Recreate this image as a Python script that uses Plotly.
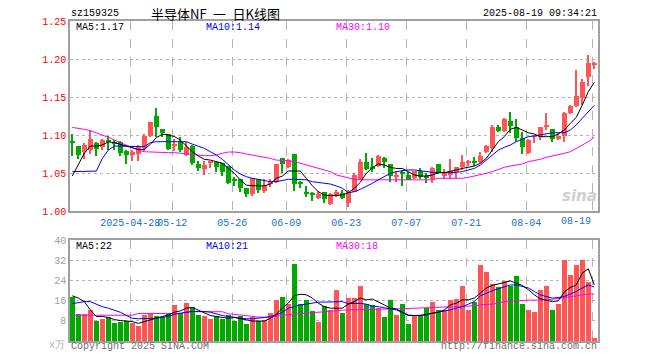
import plotly.graph_objects as go

# ---------------- data ----------------
tick_idx = [10, 17, 27, 36, 46, 56, 66, 76, 87]
tick_labels = ["2025-04-28", "05-12", "05-26", "06-09", "06-23", "07-07", "07-21", "08-04", "08-19"]

open_ = [1.091, 1.0855, 1.078, 1.0803, 1.0895, 1.0846, 1.0922, 1.0892, 1.0908, 1.079,
         1.0741, 1.0754, 1.0825, 1.0987, 1.125, 1.1079, 1.1009, 1.0858, 1.0908, 1.0732,
         1.085, 1.0618, 1.0557, 1.0638, 1.0645, 1.0627, 1.0592, 1.0404, 1.0417, 1.0307,
         1.0219, 1.0417, 1.0268, 1.0368, 1.0382, 1.0697, 1.0583, 1.075, 1.0373, 1.0228,
         1.0217, 1.0175, 1.025, 1.009, 1.0197, 1.0232, 1.0101, 1.0254, 1.0417, 1.0645,
         1.0566, 1.0596, 1.0693, 1.0614, 1.0447, 1.0496, 1.0474, 1.0439, 1.0531, 1.0443,
         1.0417, 1.0618, 1.0461, 1.0474, 1.0518, 1.0575, 1.0636, 1.0648, 1.0649, 1.0781,
         1.0825, 1.1101, 1.1057, 1.1184, 1.1101, 1.0956, 1.0759, 1.0974, 1.0978, 1.111,
         1.1075, 1.0947, 1.0991, 1.1294, 1.1382, 1.1482, 1.1768, 1.1925]
high = [1.101, 1.086, 1.089, 1.1066, 1.0904, 1.0947, 1.099, 1.0934, 1.092, 1.080,
        1.080, 1.0873, 1.1013, 1.1175, 1.1355, 1.108, 1.101, 1.0952, 1.0974, 1.0908,
        1.0868, 1.0658, 1.0658, 1.0658, 1.0645, 1.0636, 1.0592, 1.0452, 1.0417, 1.0307,
        1.0439, 1.042, 1.0417, 1.0425, 1.0614, 1.0697, 1.068, 1.075, 1.039, 1.0333,
        1.0254, 1.0268, 1.025, 1.024, 1.028, 1.0276, 1.0276, 1.0496, 1.068, 1.0759,
        1.0693, 1.0732, 1.0715, 1.0614, 1.0531, 1.054, 1.0513, 1.0531, 1.057, 1.0504,
        1.0583, 1.0618, 1.0548, 1.0684, 1.0575, 1.0737, 1.0675, 1.0715, 1.0772, 1.0868,
        1.1132, 1.1127, 1.1219, 1.1303, 1.1211, 1.1044, 1.0943, 1.100, 1.111, 1.1285,
        1.1075, 1.1031, 1.1307, 1.1395, 1.1855, 1.1732, 1.2053, 1.1965]
low = [1.072, 1.068, 1.068, 1.075, 1.0724, 1.0803, 1.0803, 1.080, 1.073, 1.0623,
       1.066, 1.066, 1.0785, 1.098, 1.098, 1.0974, 1.080, 1.0794, 1.078, 1.072,
       1.0605, 1.0526, 1.0474, 1.0561, 1.0509, 1.046, 1.0351, 1.0333, 1.0254, 1.0189,
       1.0202, 1.0241, 1.0232, 1.0311, 1.0373, 1.0496, 1.0566, 1.0268, 1.030, 1.0189,
       1.0136, 1.0154, 1.011, 1.008, 1.018, 1.0158, 1.0057, 1.0254, 1.0408, 1.0539,
       1.0518, 1.0583, 1.0566, 1.0386, 1.0386, 1.0333, 1.0404, 1.0417, 1.0417, 1.0364,
       1.0364, 1.0482, 1.0417, 1.0425, 1.043, 1.054, 1.0596, 1.0592, 1.0636, 1.0759,
       1.0781, 1.1044, 1.1044, 1.1022, 1.0912, 1.075, 1.075, 1.089, 1.0934, 1.1066,
       1.0912, 1.0934, 1.0912, 1.1276, 1.1373, 1.1395, 1.1649, 1.1868]
close = [1.090, 1.0737, 1.0864, 1.0947, 1.082, 1.0934, 1.092, 1.089, 1.0768, 1.0741,
         1.0776, 1.0838, 1.0987, 1.1175, 1.110, 1.1026, 1.0816, 1.0862, 1.0803, 1.0838,
         1.0627, 1.0561, 1.0605, 1.0642, 1.0583, 1.0509, 1.0373, 1.0399, 1.0307, 1.0228,
         1.0439, 1.0276, 1.0333, 1.0373, 1.0614, 1.0623, 1.0671, 1.0355, 1.0368, 1.0224,
         1.0213, 1.0224, 1.0162, 1.023, 1.0254, 1.0171, 1.0254, 1.0478, 1.0645, 1.0553,
         1.0563, 1.0724, 1.0645, 1.046, 1.0478, 1.049, 1.0412, 1.0531, 1.0443, 1.044,
         1.0566, 1.0496, 1.0518, 1.0526, 1.0575, 1.064, 1.064, 1.0643, 1.0728, 1.0855,
         1.1101, 1.1057, 1.1211, 1.1118, 1.0956, 1.0846, 1.0934, 1.0978, 1.1101, 1.1114,
         1.0943, 1.0987, 1.1294, 1.1382, 1.1513, 1.1702, 1.1943, 1.193]

ma5 = [1.046, 1.0605, 1.076, 1.0855, 1.0855, 1.0868, 1.091, 1.090, 1.0877, 1.0855,
       1.0825, 1.081, 1.081, 1.0877, 1.0965, 1.101, 1.100, 1.098, 1.0934, 1.0855,
       1.078, 1.0724, 1.068, 1.067, 1.065, 1.063, 1.056, 1.0496, 1.041, 1.034,
       1.0333, 1.033, 1.033, 1.0355, 1.043, 1.046, 1.0526, 1.0526, 1.0526, 1.043,
       1.0333, 1.0254, 1.021, 1.0202, 1.021, 1.021, 1.024, 1.030, 1.0377, 1.0496,
       1.057, 1.0618, 1.0605, 1.0575, 1.056, 1.056, 1.0518, 1.0474, 1.046, 1.046,
       1.0474, 1.0504, 1.0504, 1.0518, 1.054, 1.056, 1.0575, 1.0592, 1.0627, 1.0693,
       1.080, 1.0912, 1.0978, 1.1075, 1.110, 1.1066, 1.103, 1.1013, 1.0978, 1.0978,
       1.0978, 1.1013, 1.1066, 1.1154, 1.1232, 1.1395, 1.157, 1.1693]
ma10 = [1.0518, 1.0518, 1.0518, 1.0518, 1.0525, 1.069, 1.080, 1.0855, 1.0855, 1.0846,
        1.0846, 1.0846, 1.0846, 1.090, 1.0912, 1.0912, 1.0912, 1.0912, 1.0912, 1.0912,
        1.088, 1.0855, 1.0825, 1.078, 1.0737, 1.068, 1.0605, 1.054, 1.0487, 1.0452,
        1.043, 1.0417, 1.040, 1.0386, 1.0386, 1.040, 1.0417, 1.0417, 1.0417, 1.041,
        1.0386, 1.0373, 1.0364, 1.0355, 1.033, 1.030, 1.024, 1.0254, 1.0285, 1.032,
        1.0364, 1.041, 1.0452, 1.0496, 1.0518, 1.053, 1.054, 1.054, 1.053, 1.0513,
        1.0509, 1.0509, 1.0504, 1.0504, 1.0509, 1.0518, 1.054, 1.056, 1.0605, 1.067,
        1.0737, 1.080, 1.0838, 1.0868, 1.0912, 1.0947, 1.0978, 1.0987, 1.100, 1.1022,
        1.103, 1.103, 1.103, 1.1066, 1.1132, 1.122, 1.1307, 1.139]
ma30 = [1.110, 1.109, 1.1075, 1.1057, 1.103, 1.100, 1.097, 1.0934, 1.090, 1.0868,
        1.0838, 1.080, 1.078, 1.0776, 1.0768, 1.0768, 1.0768, 1.0768, 1.0759, 1.0746,
        1.0737, 1.0728, 1.0728, 1.0728, 1.0737, 1.0759, 1.0776, 1.0776, 1.0768, 1.075,
        1.0737, 1.0724, 1.0706, 1.0693, 1.067, 1.067, 1.0662, 1.065, 1.0627, 1.0605,
        1.0583, 1.056, 1.054, 1.0518, 1.0474, 1.0452, 1.043, 1.0417, 1.041, 1.041,
        1.041, 1.041, 1.041, 1.041, 1.041, 1.041, 1.041, 1.041, 1.041, 1.041,
        1.041, 1.043, 1.043, 1.043, 1.043, 1.043, 1.0443, 1.046, 1.0474, 1.0496,
        1.0518, 1.0548, 1.0575, 1.0592, 1.061, 1.0618, 1.065, 1.0662, 1.068, 1.0706,
        1.0724, 1.0732, 1.0759, 1.078, 1.0825, 1.0868, 1.0912, 1.097]

volume = [17.4, 10.6, 10.6, 12.2, 7.8, 8.6, 9.4, 7.0, 7.4, 8.1,
          7.0, 5.8, 10.2, 10.9, 9.8, 9.4, 10.6, 14.2, 11.1, 15.0,
          13.4, 10.2, 9.8, 8.8, 9.8, 8.6, 10.2, 7.9, 10.1, 6.6,
          9.4, 8.1, 8.5, 11.0, 16.2, 17.4, 14.6, 30.5, 14.6, 16.2,
          11.7, 7.4, 13.8, 12.4, 20.1, 11.0, 17.0, 17.0, 21.7, 14.6,
          14.3, 12.9, 9.4, 16.2, 10.2, 14.6, 6.6, 10.2, 9.8, 13.0,
          15.4, 12.2, 12.2, 16.2, 16.6, 21.7, 12.2, 15.4, 30.1, 27.3,
          22.5, 21.3, 23.7, 21.7, 25.7, 14.6, 12.2, 11.4, 20.1, 21.7,
          12.2, 14.6, 32.1, 26.1, 30.1, 32.1, 23.4, 1.1]
vma5 = [17.9, 17.0, 15.6, 12.3, 9.7, 9.7, 9.3, 8.5, 8.1, 7.9,
        7.7, 7.0, 7.7, 8.4, 9.3, 9.7, 10.3, 11.4, 11.9, 13.0,
        13.3, 12.3, 11.0, 10.1, 9.7, 9.3, 9.0, 9.3, 9.0, 8.4,
        7.9, 7.9, 7.9, 9.0, 10.6, 13.0, 15.0, 17.9, 18.5, 18.3,
        17.0, 15.0, 13.6, 13.0, 13.0, 13.0, 14.6, 15.6, 17.0, 16.3,
        16.6, 15.6, 14.3, 13.0, 12.7, 11.4, 10.1, 10.1, 10.1, 10.6,
        11.0, 11.4, 12.3, 14.3, 15.0, 16.3, 16.3, 17.0, 19.0, 21.0,
        22.0, 22.5, 23.2, 23.8, 22.9, 22.0, 20.3, 18.3, 16.7, 16.3,
        15.6, 15.9, 19.4, 21.2, 22.2, 26.9, 28.6, 22.2]
vma10 = [14.8, 15.2, 15.6, 15.6, 14.6, 13.6, 13.0, 12.3, 11.4, 10.1,
         9.0, 8.8, 8.8, 8.8, 9.0, 9.4, 9.7, 10.6, 11.0, 11.4,
         11.7, 11.7, 11.7, 11.4, 10.6, 10.1, 9.7, 9.3, 9.0, 8.8,
         8.8, 9.0, 9.3, 9.7, 10.3, 11.4, 13.0, 13.6, 14.3, 14.6,
         15.0, 15.4, 15.4, 15.5, 15.4, 15.6, 14.8, 14.8, 14.9, 14.6,
         13.9, 13.6, 13.0, 12.7, 12.3, 11.4, 10.3, 10.1, 10.1, 10.3,
         11.0, 11.4, 11.9, 12.3, 13.0, 13.6, 14.6, 15.6, 17.9, 19.0,
         19.9, 20.7, 21.6, 22.2, 22.2, 21.6, 21.0, 19.6, 18.3, 17.6,
         17.0, 17.2, 17.6, 18.6, 19.6, 21.0, 22.2, 21.4]
vma30 = [10.2, 10.2, 10.2, 10.2, 10.2, 10.2, 10.2, 10.2, 10.2, 10.2,
         10.2, 10.9, 10.9, 10.9, 10.9, 10.9, 10.9, 10.9, 10.9, 11.6,
         11.6, 11.6, 11.6, 11.6, 11.6, 11.6, 10.8, 10.5, 10.4, 10.0,
         9.6, 9.5, 9.4, 9.5, 9.7, 10.2, 10.4, 10.8, 11.0, 11.2,
         11.4, 11.6, 11.8, 11.9, 12.0, 12.2, 12.3, 12.4, 12.5, 12.6,
         12.7, 12.7, 12.7, 12.7, 12.7, 12.8, 12.8, 12.9, 13.0, 13.0,
         13.1, 13.2, 13.3, 13.4, 13.5, 13.5, 13.6, 13.9, 14.3, 14.4,
         14.6, 15.0, 15.6, 15.7, 15.9, 16.0, 16.2, 16.2, 16.2, 16.3,
         16.5, 16.8, 17.2, 17.5, 17.9, 18.2, 18.6, 18.6]

price_ticks = [1.00, 1.05, 1.10, 1.15, 1.20, 1.25]
vol_ticks = [8, 16, 24, 32, 40]

# ---------------- styling ----------------
RED = "#ff5555"
GREEN = "#00a800"
MONO = "Liberation Mono, DejaVu Sans Mono, monospace"
GRID = "#b4b4b4"
BORDER = "#a0a0a0"
XLAB = "#1c70c8"

n = len(close)
x = list(range(n))
cols = [RED if c >= o else GREEN for o, c in zip(open_, close)]
body_base = [min(o, c) for o, c in zip(open_, close)]
body_h = [max(abs(c - o), 0.0014) for o, c in zip(open_, close)]
wick_h = [h - l for h, l in zip(high, low)]

fig = go.Figure()
fig.add_trace(go.Bar(x=x, y=wick_h, base=low, width=0.18, marker=dict(color=cols, line_width=0),
                     xaxis="x", yaxis="y", hoverinfo="skip"))
fig.add_trace(go.Bar(x=x, y=body_h, base=body_base, width=0.8, marker=dict(color=cols, line_width=0),
                     xaxis="x", yaxis="y", hoverinfo="skip"))
for arr, c in [(ma30, "#ff00ff"), (ma10, "#0000ff"), (ma5, "#000000")]:
    fig.add_trace(go.Scatter(x=x, y=arr, mode="lines", line=dict(color=c, width=1),
                             xaxis="x", yaxis="y", hoverinfo="skip"))
fig.add_trace(go.Bar(x=x, y=volume, width=0.8, marker=dict(color=cols, line_width=0),
                     xaxis="x2", yaxis="y2", hoverinfo="skip"))
for arr, c in [(vma30, "#ff00ff"), (vma10, "#0000ff"), (vma5, "#000000")]:
    fig.add_trace(go.Scatter(x=x, y=arr, mode="lines", line=dict(color=c, width=1),
                             xaxis="x2", yaxis="y2", hoverinfo="skip"))

# the page body has an 8px default margin, so the figure is drawn 8px smaller
OFF = 8
W, H = 660 - OFF, 360 - OFF
PL, PR, PT, PB = 70, 598, 21, 341          # plot-area edges in page pixels
L, T = PL - OFF, PT - OFF
R, B = W - (PR - OFF), H - (PB - OFF)
pw, ph = PR - PL, PB - PT


def px(v):
    return (v - PL) / pw


def py(v):
    return (PB - v) / ph


grid_x = [i - 0.33 for i in tick_idx]
xr = [-0.383, 87.617]

axis_common = dict(showline=True, mirror=True, linecolor=BORDER, linewidth=1.5, zeroline=False,
                   fixedrange=True)

fig.update_layout(
    width=W, height=H, margin=dict(l=L, r=R, t=T, b=B, autoexpand=False),
    paper_bgcolor="white", plot_bgcolor="white", showlegend=False, barmode="overlay",
    bargap=0,
    xaxis=dict(domain=[0, 1], range=xr, anchor="y", tickvals=grid_x,
               ticktext=tick_labels[:-1] + [""], tickangle=0, showgrid=True, gridcolor=GRID,
               griddash="dash", gridwidth=1, ticks="outside", ticklen=1, tickcolor="rgba(0,0,0,0)",
               tickfont=dict(family=MONO, size=10, color=XLAB), **axis_common),
    yaxis=dict(domain=[py(211), 1], range=[1.0, 1.25], anchor="x", tickvals=price_ticks,
               ticktext=["%.2f" % v for v in price_ticks], showgrid=True, gridcolor=GRID,
               griddash="dot", gridwidth=1, ticks="", tickfont=dict(family=MONO, size=10, color="#ff0000"),
               **axis_common),
    xaxis2=dict(domain=[0, 1], range=xr, anchor="y2", tickvals=grid_x, showticklabels=False,
                showgrid=True, gridcolor=GRID, griddash="dash", gridwidth=1, ticks="", **axis_common),
    yaxis2=dict(domain=[0, py(240)], range=[0, 40], anchor="x2", tickvals=vol_ticks,
                ticktext=[str(v) for v in vol_ticks], showgrid=True, gridcolor=GRID, griddash="dot",
                gridwidth=1, ticks="", tickfont=dict(family=MONO, size=10, color="#a0a0a0"),
                **axis_common),
)

ann = []


def add(text, xp, yp, color="#000000", size=10, anchor="left", family=MONO, **kw):
    ann.append(dict(text=text, x=px(xp), y=py(yp), xref="paper", yref="paper", showarrow=False,
                    xanchor=anchor, yanchor="middle", font=dict(family=family, size=size, color=color),
                    borderpad=0, **kw))


add("sz159325", 70, 14)
add("半导体NF\u2002一\u2002日K线图", 150, 14, size=13, family="Noto Sans CJK SC")
add("2025-08-19 09:34:21", 598, 14, anchor="right")
add("MA5:1.17", 75, 27)
add("MA10:1.14", 205, 27, color="#0000ff")
add("MA30:1.10", 335, 27, color="#ff00ff")
add("MA5:22", 75, 246)
add("MA10:21", 205, 246, color="#0000ff")
add("MA30:18", 335, 246, color="#ff00ff")
add("Copyright 2025 SINA.COM", 70, 346, color="#707070")
add("http://finance.sina.com.cn", 598, 346, color="#707070", anchor="right")
add("x万", 66, 345, color="#b0b0b0", anchor="right")
add("<b><i>sina</i></b>", 598, 196, color="#cfcfcf", size=15, anchor="right", family="DejaVu Sans")
ann.append(dict(text=tick_labels[-1], x=grid_x[-1], y=py(221), xref="x", yref="paper", showarrow=False,
                xanchor="right", yanchor="middle", borderpad=0,
                font=dict(family=MONO, size=10, color=XLAB)))
fig.update_layout(annotations=ann)

fig.write_html("out.html")
